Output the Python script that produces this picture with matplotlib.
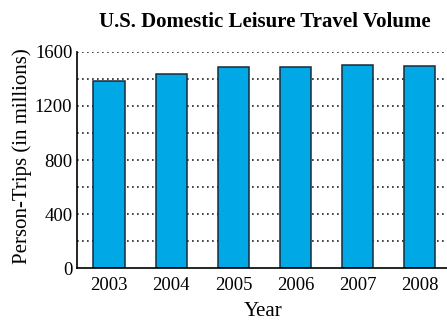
import numpy as np
from matplotlib import pyplot as plt

years = ['2003', '2004', '2005', '2006', '2007', '2008']
trips = [1385, 1437, 1485, 1485, 1502, 1494]
yticks = [0, 400, 800, 1200, 1600]

plt.rcParams['font.family'] = 'Liberation Serif'

fig = plt.figure(figsize=(4.47, 3.22), dpi=100)
ax = fig.add_axes([0.173, 0.167, 0.827, 0.672])

x = np.arange(len(years))
# dotted guide lines every 200, drawn under the bars
for v in range(200, 1601, 200):
    ax.axhline(v, color='#222222', linestyle=(0, (1, 2)), linewidth=1.2, zorder=1)

ax.bar(x, trips, width=0.5, color='#00a9e6', edgecolor='#1a2a3a', linewidth=1.1, zorder=2)

ax.set_xlim(-0.51, 5.435)
ax.set_ylim(0, 1600)
ax.set_xticks(x)
ax.set_xticklabels(years, fontsize=13.5)
ax.set_yticks(yticks)
ax.set_yticklabels([str(v) for v in yticks], fontsize=13.5)
ax.tick_params(length=0, pad=3.6)
ax.tick_params(axis='x', pad=6)

for s in ['top', 'right']:
    ax.spines[s].set_visible(False)
ax.spines['left'].set_linewidth(1.2)
ax.spines['bottom'].set_linewidth(1.2)

fig.text(22 / 447, 0.514, 'Person-Trips (in millions)', fontsize=15,
         rotation=90, ha='center', va='center')
fig.text(263 / 447, 6 / 322, 'Year', fontsize=15, ha='center', va='baseline')
fig.text(265 / 447, 1 - 27 / 322, 'U.S. Domestic Leisure Travel Volume',
         fontsize=15, fontweight='bold', ha='center', va='baseline')

fig.savefig('out.png', dpi=100)
